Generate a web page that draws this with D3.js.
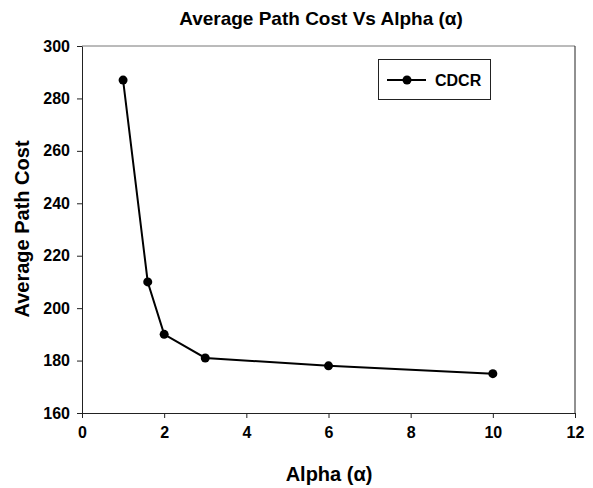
<!DOCTYPE html>
<html><head><meta charset="utf-8">
<script src="https://cdn.jsdelivr.net/npm/d3@7"></script>
<style>body{margin:0;background:#fff}svg{display:block}text{font-family:Arial,"Liberation Sans",sans-serif;font-weight:bold}</style>
</head><body><svg id="c" width="593" height="488"></svg>
<script>
const alphaValues = [1, 1.6, 2, 3, 6, 10];
const cdcrCost = [287, 210, 190, 181, 178, 175];
const xTicks = [0, 2, 4, 6, 8, 10, 12];
const yTicks = [160, 180, 200, 220, 240, 260, 280, 300];
const seriesName = "CDCR";
const titleText = "Average Path Cost Vs Alpha (\u03b1)";
const xLabel = "Alpha (\u03b1)";
const yLabel = "Average Path Cost";

const svg = d3.select("#c");
const m = {l:82, r:575, t:46, b:413};
const x = d3.scaleLinear().domain([0,12]).range([m.l, m.r]);
const y = d3.scaleLinear().domain([160,300]).range([m.b, m.t]);

// frame top/right
svg.append("line").attr("x1",m.l).attr("x2",m.r).attr("y1",m.t).attr("y2",m.t).attr("stroke","#777").attr("stroke-width",1);
svg.append("line").attr("x1",m.r).attr("x2",m.r).attr("y1",m.t).attr("y2",m.b).attr("stroke","#222").attr("stroke-width",1);

const xa = svg.append("g").attr("transform",`translate(0,${m.b})`)
  .call(d3.axisBottom(x).tickValues(xTicks).tickSize(5).tickSizeOuter(0).tickPadding(6).tickFormat(d3.format("d")));
const ya = svg.append("g").attr("transform",`translate(${m.l},0)`)
  .call(d3.axisLeft(y).tickValues(yTicks).tickSize(5).tickSizeOuter(0).tickPadding(7).tickFormat(d3.format("d")));
[xa,ya].forEach(g=>{g.selectAll("text").attr("font-size",16).attr("font-weight","bold").attr("fill","#000").attr("font-family","Arial, 'Liberation Sans', sans-serif");
  g.selectAll("line,path").attr("stroke","#222");});
xa.selectAll("text").attr("dy","0.9em");

const pts = alphaValues.map((a,i)=>[a,cdcrCost[i]]);
svg.append("path").datum(pts).attr("fill","none").attr("stroke","#000").attr("stroke-width",2)
  .attr("d", d3.line().x(d=>x(d[0])).y(d=>y(d[1])));
svg.selectAll("circle.pt").data(pts).join("circle").attr("class","pt")
  .attr("cx",d=>x(d[0])).attr("cy",d=>y(d[1])).attr("r",4.5).attr("fill","#000");

// title & labels
svg.append("text").attr("x",321).attr("y",25).attr("text-anchor","middle").attr("font-size",19).text(titleText);
svg.append("text").attr("x",329).attr("y",481).attr("text-anchor","middle").attr("font-size",20).text(xLabel);
svg.append("text").attr("transform",`translate(29,229) rotate(-90)`).attr("text-anchor","middle").attr("font-size",20).text(yLabel);

// legend
const lg = svg.append("g");
lg.append("rect").attr("x",378.5).attr("y",59.5).attr("width",112).attr("height",40).attr("fill","#fff").attr("stroke","#222");
lg.append("line").attr("x1",387).attr("x2",426).attr("y1",80).attr("y2",80).attr("stroke","#000").attr("stroke-width",2);
lg.append("circle").attr("cx",407).attr("cy",80).attr("r",4.5).attr("fill","#000");
lg.append("text").attr("x",435).attr("y",86).attr("font-size",16).text(seriesName);
</script></body></html>
